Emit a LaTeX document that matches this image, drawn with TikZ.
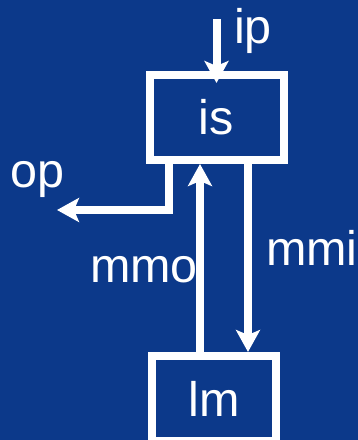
\documentclass[tikz,border=0pt]{standalone}
\usepackage{fontspec}
\setmainfont{Liberation Sans}
\usetikzlibrary{arrows.meta}
\definecolor{bgblue}{RGB}{12,57,138}
\tikzset{
  txt/.style={font=\fontsize{48.5}{58}\selectfont},
  box/.style={draw=white, line width=8pt, minimum width=#1, minimum height=85pt,
    inner sep=0pt, outer sep=4pt, text=white, txt},
  lbl/.style={text=white, inner sep=0pt, anchor=base west, txt},
  flow/.style={draw=white, line width=8pt, -{Stealth[length=22pt, width=24pt, inset=5pt]}}
}
\begin{document}
\begin{tikzpicture}[x=1pt, y=-1pt]
  \fill[bgblue] (0,0) rectangle (358,440);
  \useasboundingbox (0,0) rectangle (358,440);
  \clip (0,0) rectangle (358,440);

  % the two blocks
  \node[box=134pt] (is) at (216.5,117.5) {is};
  \node[box=124pt] (lm) at (214,398.5) {lm};

  % labels
  \node[lbl] (iplbl)  at (233.8,43)  {ip};
  \node[lbl] (oplbl)  at (10.3,187) {op};
  \node[lbl] (mmolbl) at (89.8,282)  {mmo};
  \node[lbl] (mmilbl) at (265.8,265) {mmi};

  % free ends
  \coordinate (ipsrc) at (216.5,19);
  \coordinate (optip) at (57,210);

  % connectors
  \draw[flow] (ipsrc) -- ([yshift=-12pt]is.north);
  \draw[flow] ([xshift=-47.5pt]is.south) |- (optip);
  \draw[flow] ([xshift=-14pt]lm.north) -- ([xshift=-16.5pt]is.south);
  \draw[flow] ([xshift=31.5pt]is.south) -- ([xshift=34pt]lm.north);
\end{tikzpicture}
\end{document}
